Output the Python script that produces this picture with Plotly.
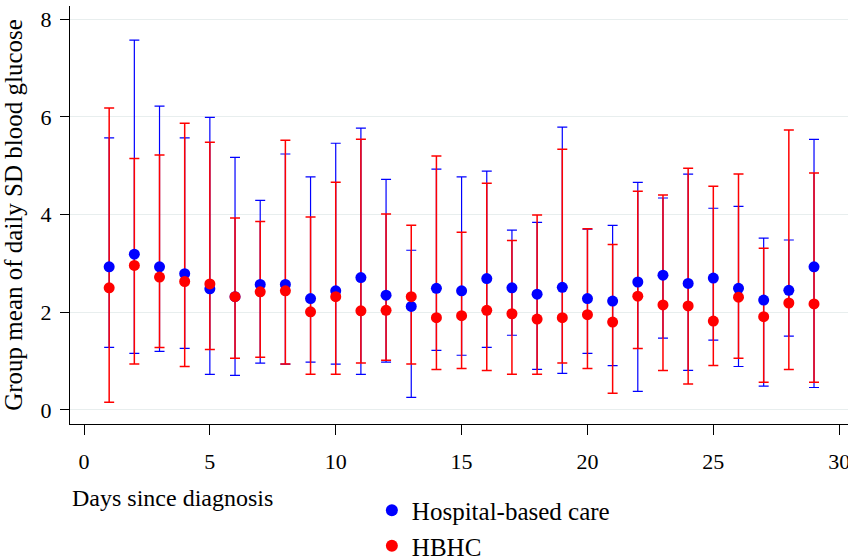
import plotly.graph_objects as go

days = list(range(1, 30))

hosp_mean = [2.93, 3.19, 2.93, 2.79, 2.48, 2.32, 2.57, 2.57, 2.28, 2.44,
             2.71, 2.35, 2.12, 2.49, 2.44, 2.69, 2.50, 2.37, 2.51, 2.28,
             2.23, 2.62, 2.76, 2.59, 2.70, 2.49, 2.25, 2.45, 2.93]
hosp_upper = [5.57, 7.57, 6.22, 5.57, 5.99, 5.17, 4.29, 5.24, 4.77, 5.46,
              5.77, 4.72, 3.27, 4.93, 4.77, 4.89, 3.68, 3.84, 5.79, 3.70,
              3.78, 4.66, 4.34, 4.83, 4.13, 4.17, 3.52, 3.48, 5.54]
hosp_lower = [1.28, 1.16, 1.20, 1.26, 0.73, 0.71, 0.96, 0.94, 0.98, 0.94,
              0.73, 0.98, 0.26, 1.22, 1.12, 1.28, 1.53, 0.83, 0.75, 1.16,
              0.91, 0.38, 1.47, 0.81, 1.43, 0.89, 0.49, 1.51, 0.46]

hbhc_mean = [2.50, 2.96, 2.72, 2.63, 2.58, 2.32, 2.42, 2.44, 2.01, 2.32,
             2.03, 2.04, 2.32, 1.89, 1.93, 2.04, 1.97, 1.86, 1.89, 1.95,
             1.80, 2.33, 2.15, 2.13, 1.82, 2.31, 1.91, 2.19, 2.17]
hbhc_upper = [6.18, 5.15, 5.22, 5.87, 5.48, 3.93, 3.86, 5.52, 3.95, 4.66,
              5.54, 4.01, 3.78, 5.20, 3.64, 4.64, 3.47, 3.99, 5.34, 3.71,
              3.39, 4.48, 4.40, 4.95, 4.58, 4.83, 3.31, 5.73, 4.85]
hbhc_lower = [0.16, 0.94, 1.28, 0.89, 1.24, 1.06, 1.08, 0.94, 0.73, 0.73,
              0.96, 1.02, 0.94, 0.83, 0.85, 0.81, 0.73, 0.73, 0.96, 0.85,
              0.34, 1.26, 0.81, 0.53, 0.91, 1.06, 0.57, 0.83, 0.57]

x_ticks = [0, 5, 10, 15, 20, 25, 30]
y_ticks = [0, 2, 4, 6, 8]

FONT = "Liberation Serif"
BLUE = "#0000ff"
RED = "#ff0000"


def err_trace(mean, upper, lower, color, thick):
    return go.Scatter(
        x=days, y=mean, mode="markers", showlegend=False, hoverinfo="skip",
        marker=dict(color="rgba(0,0,0,0)", size=1),
        error_y=dict(type="data", symmetric=False,
                     array=[u - m for u, m in zip(upper, mean)],
                     arrayminus=[m - l for m, l in zip(mean, lower)],
                     color=color, thickness=thick, width=5),
    )


def dot_trace(name, mean, color):
    return go.Scatter(x=days, y=mean, mode="markers", name=name,
                      marker=dict(color=color, size=11))


fig = go.Figure()
fig.add_trace(err_trace(hosp_mean, hosp_upper, hosp_lower, BLUE, 1.2))
fig.add_trace(err_trace(hbhc_mean, hbhc_upper, hbhc_lower, RED, 1.5))
fig.add_trace(dot_trace("Hospital-based care", hosp_mean, BLUE))
fig.add_trace(dot_trace("HBHC", hbhc_mean, RED))

fig.update_layout(
    width=848, height=560,
    margin=dict(l=70, r=0, t=6, b=136, autoexpand=False),
    plot_bgcolor="white", paper_bgcolor="white",
    font=dict(family=FONT, size=23, color="black"),
    showlegend=True,
    legend=dict(x=0.388, y=-0.152, xanchor="left", yanchor="top",
                font=dict(size=25), bgcolor="rgba(0,0,0,0)",
                tracegroupgap=0, itemsizing="constant"),
    xaxis=dict(range=[-0.556, 30.35], tickvals=x_ticks, ticks="outside", ticklen=10,
               tickcolor="black", showline=True, linecolor="black", linewidth=1.3,
               showgrid=False, zeroline=False, ticklabelstandoff=7,
               ticklabeloverflow="allow", tickfont=dict(size=22)),
    yaxis=dict(range=[-0.287, 8.27], tickvals=y_ticks, ticks="outside", ticklen=9,
               tickcolor="black", showline=True, linecolor="black", linewidth=1.3,
               showgrid=True, gridcolor="#e8eeee", gridwidth=1, zeroline=False,
               tickfont=dict(size=22), ticklabelstandoff=4,
               title=dict(text="Group mean of daily SD blood glucose", standoff=10,
                          font=dict(size=25))),
)

fig.add_annotation(text="Days since diagnosis", xref="paper", yref="paper",
                   x=0, y=-0.177, xanchor="left", yanchor="middle",
                   showarrow=False, font=dict(size=24, family=FONT))

fig.write_html("out.html", config={"displayModeBar": False},
               post_script="document.body.style.margin='0';")
